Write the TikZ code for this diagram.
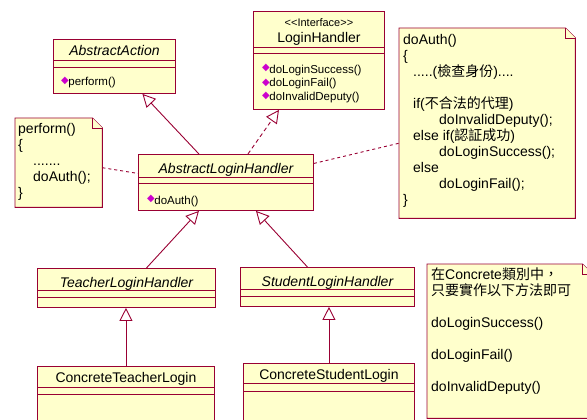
\documentclass[tikz,border=0pt]{standalone}
\usepackage{fontspec}
\setmainfont{Liberation Sans}
\newfontfamily\cjkfont{Noto Sans CJK TC}
\newfontfamily\iconfont{DejaVu Sans}
\usetikzlibrary{arrows.meta}

\definecolor{umlfill}{HTML}{FFFFCC}
\definecolor{umlred}{HTML}{990033}
\definecolor{opmag}{HTML}{CC00CC}

% operation marker in front of a method
\newcommand{\opicon}{\raisebox{2pt}{\textcolor{opmag}{\iconfont\fontsize{10}{10}\selectfont ◆}}\kern-0.5pt}
% note outline with folded corner
\newcommand{\notepage}[1]{%
  \filldraw[notebox] (#1.south west) -- (#1.north west) -- ([xshift=-10pt]#1.north east)
    -- ([yshift=-10pt]#1.north east) -- (#1.south east) -- cycle;
  \draw[notebox] ([xshift=-10pt]#1.north east) |- ([yshift=-10pt]#1.north east);}

\tikzset{
  umlclass/.style={draw=umlred, fill=umlfill, line width=0.9pt, anchor=north west, inner sep=0pt},
  compline/.style={draw=umlred, line width=0.9pt},
  clsname/.style={anchor=base, inner sep=0pt, font=\fontsize{14}{16}\selectfont},
  ops/.style={anchor=base west, align=left, inner sep=0pt, font=\fontsize{11.5}{14}\selectfont},
  notearea/.style={anchor=north west, inner sep=0pt},
  notebox/.style={draw=umlred, fill=umlfill, line width=0.9pt},
  notetext/.style={anchor=base west, align=left, inner sep=0pt, font=\fontsize{14}{16}\selectfont},
  inherit/.style={draw=umlred, line width=0.9pt, -{Triangle[open, length=13pt, width=13pt]}},
  realize/.style={inherit, dash pattern=on 4pt off 3pt},
  attach/.style={draw=umlred, line width=0.9pt, dash pattern=on 3pt off 3pt}
}

\begin{document}
\begin{tikzpicture}[x=1pt, y=-1pt]
  \path[use as bounding box, clip] (0,0) rectangle (587,420);

  % classes
  \node[umlclass, minimum width=122pt, minimum height=54pt] (action) at (53,39) {};
  \node[umlclass, minimum width=131pt, minimum height=98pt] (login) at (253,11) {};
  \node[umlclass, minimum width=175pt, minimum height=56pt] (abslogin) at (138,154) {};
  \node[umlclass, minimum width=178pt, minimum height=39pt] (teacher) at (37,268) {};
  \node[umlclass, minimum width=174pt, minimum height=39pt] (student) at (240,267) {};
  \node[umlclass, minimum width=177pt, minimum height=70pt] (cteacher) at (37,366) {};
  \node[umlclass, minimum width=171pt, minimum height=70pt] (cstudent) at (243,363) {};

  \draw[compline] ([yshift=-21pt]action.north west) -- ([yshift=-21pt]action.north east);
  \draw[compline] ([yshift=-28pt]action.north west) -- ([yshift=-28pt]action.north east);
  \draw[compline] ([yshift=-36pt]login.north west) -- ([yshift=-36pt]login.north east);
  \draw[compline] ([yshift=-42pt]login.north west) -- ([yshift=-42pt]login.north east);
  \draw[compline] ([yshift=-23pt]abslogin.north west) -- ([yshift=-23pt]abslogin.north east);
  \draw[compline] ([yshift=-29pt]abslogin.north west) -- ([yshift=-29pt]abslogin.north east);
  \draw[compline] ([yshift=-22pt]teacher.north west) -- ([yshift=-22pt]teacher.north east);
  \draw[compline] ([yshift=-29pt]teacher.north west) -- ([yshift=-29pt]teacher.north east);
  \draw[compline] ([yshift=-22pt]student.north west) -- ([yshift=-22pt]student.north east);
  \draw[compline] ([yshift=-29pt]student.north west) -- ([yshift=-29pt]student.north east);
  \draw[compline] ([yshift=-21pt]cteacher.north west) -- ([yshift=-21pt]cteacher.north east);
  \draw[compline] ([yshift=-28pt]cteacher.north west) -- ([yshift=-28pt]cteacher.north east);
  \draw[compline] ([yshift=-20pt]cstudent.north west) -- ([yshift=-20pt]cstudent.north east);
  \draw[compline] ([yshift=-28pt]cstudent.north west) -- ([yshift=-28pt]cstudent.north east);

  \node[clsname, font=\fontsize{14}{16}\selectfont\itshape] (action-name) at ([yshift=-17pt]action.north) {AbstractAction};
  \node[ops] (action-ops) at ([shift={(8pt,-47pt)}]action.north west) {\opicon perform()};
  \node[clsname, font=\fontsize{11}{13}\selectfont] (login-stereo) at ([yshift=-16pt]login.north)
    {\textless\kern0pt\textless Interface\textgreater\kern0pt\textgreater};
  \node[clsname] (login-name) at ([yshift=-32pt]login.north) {LoginHandler};
  \node[ops] (login-ops) at ([shift={(9pt,-90pt)}]login.north west)
    {\opicon doLoginSuccess()\\\opicon doLoginFail()\\\opicon doInvalidDeputy()};
  \node[clsname, font=\fontsize{14}{16}\selectfont\itshape] (abslogin-name) at ([yshift=-19pt]abslogin.north) {AbstractLoginHandler};
  \node[ops] (abslogin-ops) at ([shift={(9pt,-50pt)}]abslogin.north west) {\opicon doAuth()};
  \node[clsname, font=\fontsize{14}{16}\selectfont\itshape] (teacher-name) at ([yshift=-19pt]teacher.north) {TeacherLoginHandler};
  \node[clsname, font=\fontsize{14}{16}\selectfont\itshape] (student-name) at ([yshift=-19pt]student.north) {StudentLoginHandler};
  \node[clsname] (cteacher-name) at ([yshift=-16pt]cteacher.north) {ConcreteTeacherLogin};
  \node[clsname] (cstudent-name) at ([yshift=-16pt]cstudent.north) {ConcreteStudentLogin};

  % notes
  \node[notearea, minimum width=87pt, minimum height=89pt] (perfnote) at (15,118) {};
  \node[notearea, minimum width=176pt, minimum height=190pt] (authnote) at (399,28) {};
  \node[notearea, minimum width=165pt, minimum height=154pt] (concnote) at (427,264) {};
  \notepage{perfnote}
  \notepage{authnote}
  \notepage{concnote}

  \node[notetext] (perfnote-text) at ([shift={(3pt,-79pt)}]perfnote.north west)
    {perform()\\\{\\\hspace*{15pt}.......\\\hspace*{15pt}doAuth();\\\}};
  \node[notetext] (authnote-text) at ([shift={(4pt,-176pt)}]authnote.north west)
    {doAuth()\\
     \{\\
     \hspace*{10pt}.....({\cjkfont 檢查身份})....\\
     \mbox{}\\
     \hspace*{10pt}if({\cjkfont 不合法的代理})\\
     \hspace*{36pt}doInvalidDeputy();\\
     \hspace*{10pt}else if({\cjkfont 認証成功})\\
     \hspace*{36pt}doLoginSuccess();\\
     \hspace*{10pt}else\\
     \hspace*{36pt}doLoginFail();\\
     \}};
  \node[notetext] (concnote-text) at ([shift={(4pt,-127pt)}]concnote.north west)
    {{\cjkfont 在}Concrete{\cjkfont 類別中，}\\
     {\cjkfont 只要實作以下方法即可}\\
     \mbox{}\\
     doLoginSuccess()\\
     \mbox{}\\
     doLoginFail()\\
     \mbox{}\\
     doInvalidDeputy()};

  % relations
  \draw[inherit] ([xshift=-27pt]abslogin.north) -- ([xshift=28pt]action.south);
  \draw[realize] ([xshift=22pt]abslogin.north) -- ([xshift=-40pt]login.south);
  \draw[inherit] ([xshift=20pt]teacher.north) -- ([xshift=-27pt]abslogin.south);
  \draw[inherit] ([xshift=-20pt]student.north) -- ([xshift=30pt]abslogin.south);
  \draw[inherit] (cteacher.north) -- (cteacher.north |- teacher.south);
  \draw[inherit] (cstudent.north) -- (cstudent.north |- student.south);
  \draw[attach] ([yshift=-5pt]perfnote.east) -- ([yshift=9pt]abslogin.west);
  \draw[attach] ([yshift=19pt]abslogin.east) -- ([yshift=-20pt]authnote.west);
\end{tikzpicture}
\end{document}
